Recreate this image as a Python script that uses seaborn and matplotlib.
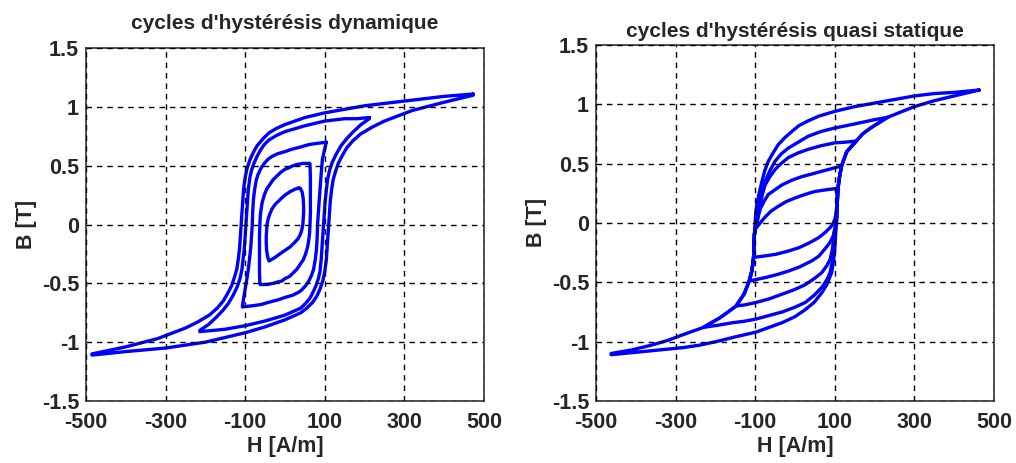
import matplotlib
matplotlib.use('Agg')
import matplotlib.pyplot as plt
import pandas as pd
import seaborn as sns

# ---- dynamic hysteresis loops (H in A/m, B in T) ----
dyn_a_desc_h = [473, 400, 300, 200, 100, 50, 0, -20, -40, -55, -70, -80, -88, -95, -100, -104, -106, -108, -110, -112, -114, -117, -121,
                -127, -134, -143, -155, -170, -190, -220, -250, -320, -400, -485]
dyn_a_desc_b = [1.11, 1.09, 1.05, 1.01, 0.95, 0.91, 0.85, 0.82, 0.78, 0.73, 0.67, 0.61, 0.55, 0.48, 0.40, 0.30, 0.20, 0.10, 0.00, -0.10, -0.20, -0.29, -0.38,
                -0.45, -0.52, -0.58, -0.65, -0.71, -0.77, -0.83, -0.88, -0.97, -1.04, -1.10]
dyn_a_asc_h = [-485, -400, -300, -200, -100, -50, 0, 20, 40, 55, 70, 80, 88, 95, 100, 104, 106, 108, 110, 112, 114, 117, 121,
               127, 134, 143, 155, 170, 190, 220, 250, 320, 400, 473]
dyn_a_asc_b = [-1.11, -1.08, -1.05, -1.00, -0.92, -0.87, -0.81, -0.78, -0.75, -0.71, -0.66, -0.61, -0.55, -0.48, -0.40, -0.30, -0.20, -0.10, 0.00, 0.10, 0.20, 0.29, 0.38,
               0.45, 0.52, 0.58, 0.65, 0.71, 0.77, 0.83, 0.88, 0.97, 1.04, 1.10]

dyn_b_desc_h = [212, 180, 150, 100, 50, 0, -20, -40, -52, -62, -70, -78, -84, -88, -92, -94, -96, -98, -100, -102, -105, -108,
                -113, -120, -130, -142, -156, -173, -192, -214]
dyn_b_desc_b = [0.91, 0.90, 0.90, 0.88, 0.84, 0.79, 0.76, 0.72, 0.68, 0.63, 0.58, 0.52, 0.46, 0.40, 0.30, 0.20, 0.10, 0.00, -0.10, -0.20, -0.29, -0.38,
                -0.46, -0.53, -0.60, -0.67, -0.73, -0.79, -0.85, -0.90]
dyn_b_asc_h = [-214, -180, -150, -100, -50, 0, 20, 40, 52, 62, 70, 78, 84, 88, 91, 93, 95, 97, 99, 101, 104, 107,
               112, 119, 129, 141, 155, 172, 191, 212]
dyn_b_asc_b = [-0.91, -0.90, -0.89, -0.86, -0.82, -0.77, -0.74, -0.71, -0.67, -0.63, -0.58, -0.52, -0.46, -0.40, -0.30, -0.20, -0.10, 0.00, 0.10, 0.20, 0.29, 0.38,
               0.46, 0.53, 0.60, 0.67, 0.73, 0.79, 0.85, 0.90]

dyn_c_desc_h = [104, 80, 60, 40, 17, 0, -20, -32, -41, -52, -60, -67, -72, -76, -79, -81, -82, -84, -86, -89, -92, -96, -100, -104, -107]
dyn_c_desc_b = [0.70, 0.69, 0.68, 0.66, 0.64, 0.62, 0.60, 0.58, 0.56, 0.52, 0.48, 0.43, 0.38, 0.30, 0.22, 0.11, 0.00, -0.10, -0.20, -0.29, -0.38, -0.47, -0.55, -0.63, -0.70]
dyn_c_asc_h = [-107, -80, -60, -40, -17, 0, 20, 32, 41, 52, 60, 67, 72, 76, 79, 81, 82, 84, 86, 88, 90, 92, 94, 99, 104]
dyn_c_asc_b = [-0.70, -0.69, -0.68, -0.66, -0.64, -0.62, -0.60, -0.58, -0.56, -0.52, -0.48, -0.43, -0.38, -0.30, -0.22, -0.11, 0.00, 0.10, 0.20, 0.29, 0.38, 0.47, 0.55, 0.63, 0.70]

dyn_d_desc_h = [62, 45, 30, 20, 8, 0, -12, -21, -30, -38, -46, -52, -57, -60, -62, -63, -64, -64, -64, -64, -63]
dyn_d_desc_b = [0.52, 0.52, 0.51, 0.50, 0.48, 0.47, 0.44, 0.41, 0.38, 0.34, 0.30, 0.25, 0.19, 0.13, 0.07, 0.00, -0.10, -0.20, -0.30, -0.40, -0.50]
dyn_d_asc_h = [-62, -45, -30, -20, -8, 0, 12, 21, 30, 38, 46, 52, 57, 60, 62, 63, 64, 64, 64, 64, 63]
dyn_d_asc_b = [-0.51, -0.51, -0.50, -0.49, -0.48, -0.46, -0.44, -0.41, -0.38, -0.34, -0.30, -0.25, -0.19, -0.13, -0.07, 0.00, 0.10, 0.20, 0.30, 0.40, 0.51]

dyn_e_desc_h = [34, 25, 13, 0, -13, -25, -33, -38, -42, -45, -46, -47, -47, -46, -43, -40]
dyn_e_desc_b = [0.31, 0.30, 0.28, 0.25, 0.21, 0.17, 0.13, 0.09, 0.05, 0.00, -0.05, -0.10, -0.15, -0.22, -0.28, -0.31]
dyn_e_asc_h = [-40, -25, -13, 0, 13, 25, 33, 38, 42, 45, 46, 47, 47, 46, 43, 38]
dyn_e_asc_b = [-0.31, -0.28, -0.25, -0.22, -0.19, -0.15, -0.12, -0.09, -0.05, 0.00, 0.05, 0.10, 0.15, 0.22, 0.28, 0.31]

# ---- quasi static loops ----
qs_a_desc_h = [463, 400, 350, 300, 250, 200, 150, 100, 60, 33, 10, -8, -25, -42, -55, -67, -76, -83, -90, -96, -99, -100, -101, -102,
               -103, -104, -108, -115, -128, -148, -168, -189, -230, -280, -320, -361, -410, -462]
qs_a_desc_b = [1.12, 1.10, 1.09, 1.07, 1.04, 1.01, 0.98, 0.94, 0.90, 0.86, 0.82, 0.77, 0.72, 0.66, 0.59, 0.52, 0.44, 0.35, 0.25, 0.15, 0.07, 0.00, -0.05, -0.10,
               -0.20, -0.29, -0.40, -0.49, -0.60, -0.70, -0.75, -0.80, -0.88, -0.94, -0.99, -1.03, -1.07, -1.10]
qs_a_asc_h = [-462, -400, -340, -280, -240, -198, -150, -98, -65, -32, 0, 26, 48, 67, 80, 92, 97, 100, 102, 104, 106, 108, 112, 117,
              130, 154, 170, 190, 233, 270, 300, 350, 400, 463]
qs_a_asc_b = [-1.11, -1.09, -1.07, -1.05, -1.03, -1.00, -0.96, -0.92, -0.88, -0.84, -0.79, -0.73, -0.67, -0.59, -0.52, -0.42, -0.32, -0.22, -0.11, 0.00, 0.15, 0.29, 0.39, 0.48,
              0.60, 0.69, 0.75, 0.80, 0.89, 0.94, 0.98, 1.03, 1.07, 1.12]

qs_b_desc_h = [233, 200, 158, 130, 100, 65, 33, 8, -17, -35, -50, -63, -75, -82, -87, -92, -96, -100, -102, -103, -104, -108, -115, -128,
               -148, -168, -189, -230]
qs_b_desc_b = [0.89, 0.87, 0.84, 0.82, 0.80, 0.77, 0.73, 0.68, 0.63, 0.58, 0.52, 0.44, 0.35, 0.27, 0.18, 0.10, 0.01, -0.05, -0.10, -0.20, -0.29, -0.40, -0.49, -0.60,
               -0.70, -0.75, -0.80, -0.88]
qs_b_asc_h = [-230, -190, -156, -130, -98, -65, -32, 0, 26, 48, 67, 80, 88, 93, 96, 98, 100, 102, 104, 106, 108, 112, 117, 130,
              154, 170, 190, 233]
qs_b_asc_b = [-0.88, -0.86, -0.84, -0.83, -0.81, -0.78, -0.75, -0.71, -0.67, -0.61, -0.545, -0.48, -0.42, -0.34, -0.25, -0.17, -0.10, -0.05, 0.00, 0.15, 0.29, 0.39, 0.48, 0.60,
              0.69, 0.75, 0.80, 0.89]

qs_c_desc_h = [154, 125, 100, 65, 33, 8, -17, -35, -50, -63, -75, -82, -87, -92, -96, -100, -102, -103, -104, -108, -115, -128, -148]
qs_c_desc_b = [0.69, 0.68, 0.675, 0.65, 0.62, 0.59, 0.55, 0.50, 0.45, 0.39, 0.32, 0.24, 0.15, 0.07, -0.02, -0.05, -0.10, -0.20, -0.29, -0.40, -0.49, -0.60, -0.70]
qs_c_asc_h = [-148, -125, -98, -65, -32, 0, 26, 48, 67, 80, 88, 93, 96, 98, 100, 102, 104, 106, 108, 112, 117, 130, 154]
qs_c_asc_b = [-0.70, -0.69, -0.67, -0.64, -0.60, -0.56, -0.52, -0.47, -0.42, -0.36, -0.31, -0.24, -0.17, -0.10, -0.05, -0.02, 0.00, 0.15, 0.29, 0.39, 0.48, 0.60, 0.69]

qs_d_desc_h = [117, 95, 67, 40, 17, -8, -33, -50, -67, -78, -87, -92, -96, -100, -102, -103, -104, -108, -115]
qs_d_desc_b = [0.48, 0.46, 0.435, 0.41, 0.39, 0.36, 0.32, 0.28, 0.24, 0.18, 0.12, 0.06, 0.00, -0.05, -0.10, -0.20, -0.29, -0.40, -0.49]
qs_d_asc_h = [-115, -95, -74, -45, -16, 12, 42, 60, 75, 87, 96, 100, 102, 104, 106, 108, 112, 117]
qs_d_asc_b = [-0.49, -0.475, -0.46, -0.435, -0.405, -0.37, -0.32, -0.28, -0.22, -0.17, -0.11, -0.05, -0.02, 0.00, 0.15, 0.29, 0.39, 0.48]

qs_e_desc_h = [104, 80, 50, 25, 0, -22, -42, -60, -75, -85, -92, -97, -100, -102, -103, -104]
qs_e_desc_b = [0.29, 0.28, 0.265, 0.24, 0.21, 0.18, 0.14, 0.10, 0.05, 0.01, -0.02, -0.04, -0.05, -0.10, -0.20, -0.29]
qs_e_asc_h = [-104, -80, -49, -20, 9, 35, 59, 76, 88, 95, 100, 102, 104, 106, 106, 104]
qs_e_asc_b = [-0.29, -0.28, -0.265, -0.24, -0.21, -0.17, -0.125, -0.08, -0.04, -0.01, 0.03, 0.06, 0.10, 0.15, 0.22, 0.29]

titles = ["cycles d'hystérésis dynamique", "cycles d'hystérésis quasi statique"]
x_ticks = [-500, -300, -100, 100, 300, 500]
y_ticks = [-1.5, -1, -0.5, 0, 0.5, 1, 1.5]
y_tick_labels = ['-1.5', '-1', '-0.5', '0', '0.5', '1', '1.5']

dyn_loops = [
    (dyn_a_desc_h, dyn_a_desc_b, dyn_a_asc_h, dyn_a_asc_b),
    (dyn_b_desc_h, dyn_b_desc_b, dyn_b_asc_h, dyn_b_asc_b),
    (dyn_c_desc_h, dyn_c_desc_b, dyn_c_asc_h, dyn_c_asc_b),
    (dyn_d_desc_h, dyn_d_desc_b, dyn_d_asc_h, dyn_d_asc_b),
    (dyn_e_desc_h, dyn_e_desc_b, dyn_e_asc_h, dyn_e_asc_b),
]
qs_loops = [
    (qs_a_desc_h, qs_a_desc_b, qs_a_asc_h, qs_a_asc_b),
    (qs_b_desc_h, qs_b_desc_b, qs_b_asc_h, qs_b_asc_b),
    (qs_c_desc_h, qs_c_desc_b, qs_c_asc_h, qs_c_asc_b),
    (qs_d_desc_h, qs_d_desc_b, qs_d_asc_h, qs_d_asc_b),
    (qs_e_desc_h, qs_e_desc_b, qs_e_asc_h, qs_e_asc_b),
]


def loops_to_df(loops):
    rows = []
    for i, (dh, db, ah, ab) in enumerate(loops):
        assert len(dh) == len(db) and len(ah) == len(ab)
        hs = dh + ah + [dh[0]]
        bs = db + ab + [db[0]]
        for h, b in zip(hs, bs):
            rows.append({'H': h, 'B': b, 'loop': i})
    return pd.DataFrame(rows)


sns.set_style('white')
plt.rcParams['font.family'] = ['Liberation Sans', 'DejaVu Sans']
plt.rcParams['font.weight'] = 'bold'
plt.rcParams['axes.unicode_minus'] = False

fig = plt.figure(figsize=(10.16, 4.63), dpi=100)
ax1 = fig.add_axes([0.0846, 0.134, 0.3917, 0.762])
ax2 = fig.add_axes([0.5866, 0.134, 0.3917, 0.769])

for ax, loops, title, pad in [(ax1, dyn_loops, titles[0], 14), (ax2, qs_loops, titles[1], 6)]:
    df = loops_to_df(loops)
    sns.lineplot(data=df, x='H', y='B', units='loop', estimator=None, sort=False,
                 color='#0000ff', linewidth=2.4, ax=ax)
    ax.set_xlim(-500, 500)
    ax.set_ylim(-1.5, 1.5)
    ax.set_xticks(x_ticks)
    ax.set_yticks(y_ticks)
    ax.set_yticklabels(y_tick_labels)
    ax.grid(True, color='black', linestyle=(0, (4, 3.5)), linewidth=1.0)
    ax.set_axisbelow(False)
    ax.tick_params(direction='in', length=4, width=0.8, labelsize=15.5)
    ax.tick_params(axis='x', pad=8)
    ax.tick_params(axis='y', pad=5)
    for lab in ax.get_xticklabels() + ax.get_yticklabels():
        lab.set_fontweight('bold')
    for sp in ax.spines.values():
        sp.set_color('#333333')
        sp.set_linewidth(1.2)
    ax.set_xlabel('H [A/m]', fontsize=15.5, fontweight='bold', labelpad=2)
    ax.set_ylabel('B [T]', fontsize=15.5, fontweight='bold', labelpad=3)
    ax.set_title(title, fontsize=15, fontweight='bold', pad=pad)

fig.savefig('out.png', dpi=100)
